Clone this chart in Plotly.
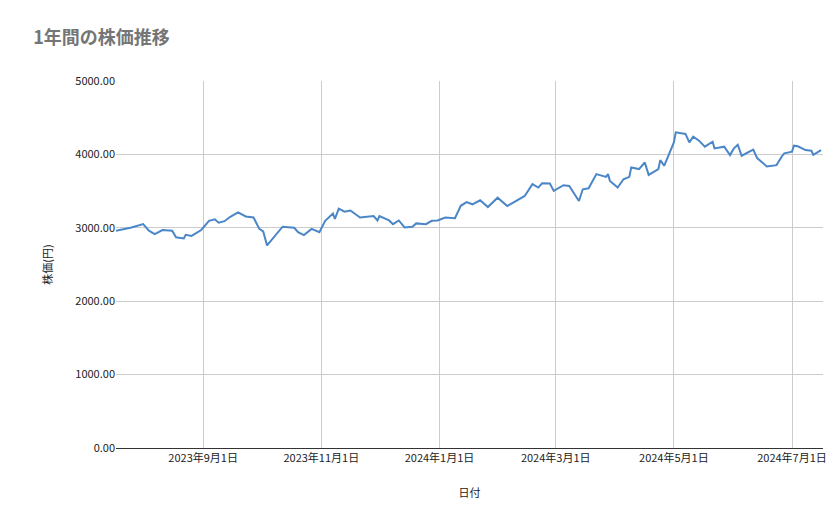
import plotly.graph_objects as go

dates = ["2023-07-18","2023-07-26","2023-08-01","2023-08-04","2023-08-07","2023-08-11","2023-08-16","2023-08-18",
"2023-08-22","2023-08-23","2023-08-26","2023-08-29","2023-08-31","2023-09-04","2023-09-07","2023-09-09","2023-09-12",
"2023-09-15","2023-09-19","2023-09-23","2023-09-27","2023-09-30","2023-10-02","2023-10-04","2023-10-07","2023-10-12",
"2023-10-18","2023-10-20","2023-10-23","2023-10-27","2023-10-31","2023-11-03","2023-11-07","2023-11-08","2023-11-10",
"2023-11-13","2023-11-16","2023-11-21","2023-11-28","2023-11-30","2023-12-01","2023-12-06","2023-12-08","2023-12-11",
"2023-12-14","2023-12-18","2023-12-20","2023-12-25","2023-12-28","2023-12-31","2024-01-04","2024-01-09","2024-01-12",
"2024-01-15","2024-01-18","2024-01-22","2024-01-26","2024-01-31","2024-02-05","2024-02-14","2024-02-18","2024-02-21",
"2024-02-23","2024-02-27","2024-02-29","2024-03-05","2024-03-08","2024-03-13","2024-03-15","2024-03-18","2024-03-22",
"2024-03-27","2024-03-28","2024-03-29","2024-04-02","2024-04-05","2024-04-08","2024-04-09","2024-04-13","2024-04-16",
"2024-04-18","2024-04-20","2024-04-23","2024-04-24","2024-04-26","2024-05-01","2024-05-02","2024-05-07","2024-05-09",
"2024-05-11","2024-05-14","2024-05-17","2024-05-21","2024-05-22","2024-05-27","2024-05-30","2024-06-01","2024-06-03",
"2024-06-05","2024-06-11","2024-06-13","2024-06-18","2024-06-23","2024-06-26","2024-06-27","2024-07-01","2024-07-02",
"2024-07-04","2024-07-08","2024-07-11","2024-07-12","2024-07-16"]
prices = [2960,3005,3050,2960,2915,2970,2960,2870,2855,2905,2890,2935,2970,3095,3115,3070,3090,3150,3210,3155,3140,
2985,2950,2760,2850,3015,3000,2940,2900,2985,2940,3095,3195,3120,3260,3220,3235,3140,3160,3100,3160,3100,3050,3100,
3005,3015,3060,3050,3095,3100,3140,3130,3300,3350,3320,3375,3283,3410,3297,3434,3594,3548,3607,3603,3502,3580,3571,
3365,3525,3539,3731,3694,3731,3639,3548,3662,3694,3822,3800,3890,3721,3753,3800,3922,3845,4164,4301,4279,4164,4242,
4187,4105,4173,4082,4105,3991,4082,4132,3982,4064,3950,3836,3854,3982,4014,4037,4119,4110,4059,4050,3995,4059]

tick_vals = ["2023-09-01","2023-11-01","2024-01-01","2024-03-01","2024-05-01","2024-07-01"]
tick_text = ["2023年9月1日","2023年11月1日","2024年1月1日","2024年3月1日","2024年5月1日","2024年7月1日"]

fig = go.Figure(go.Scatter(x=dates, y=prices, mode="lines", line=dict(color="#4a86c8", width=2)))
font = "Noto Sans CJK JP"
fig.update_layout(
    width=839, height=519, plot_bgcolor="white", paper_bgcolor="white",
    margin=dict(l=108, r=24, t=73, b=79),
    font=dict(family=font, size=11, color="#222"),
    title=dict(text="<b>1年間の株価推移</b>", x=0.03, y=0.955, xanchor="left",
               font=dict(size=18, color="#757575", family=font)),
    showlegend=False,
)
fig.update_xaxes(range=["2023-07-18","2024-07-17"], tickvals=tick_vals, ticktext=tick_text, automargin=False,
                 showgrid=True, gridcolor="#cccccc", showline=True, linecolor="#333", ticks="",
                 title=dict(text="日付", font=dict(size=11), standoff=25))
fig.update_yaxes(range=[0,5000], dtick=1000, tickformat=".2f", showgrid=True, gridcolor="#cccccc", automargin=False,
                 zeroline=False, ticks="", title=dict(text="株価(円)", font=dict(size=11), standoff=20))
fig.write_html("out.html")
